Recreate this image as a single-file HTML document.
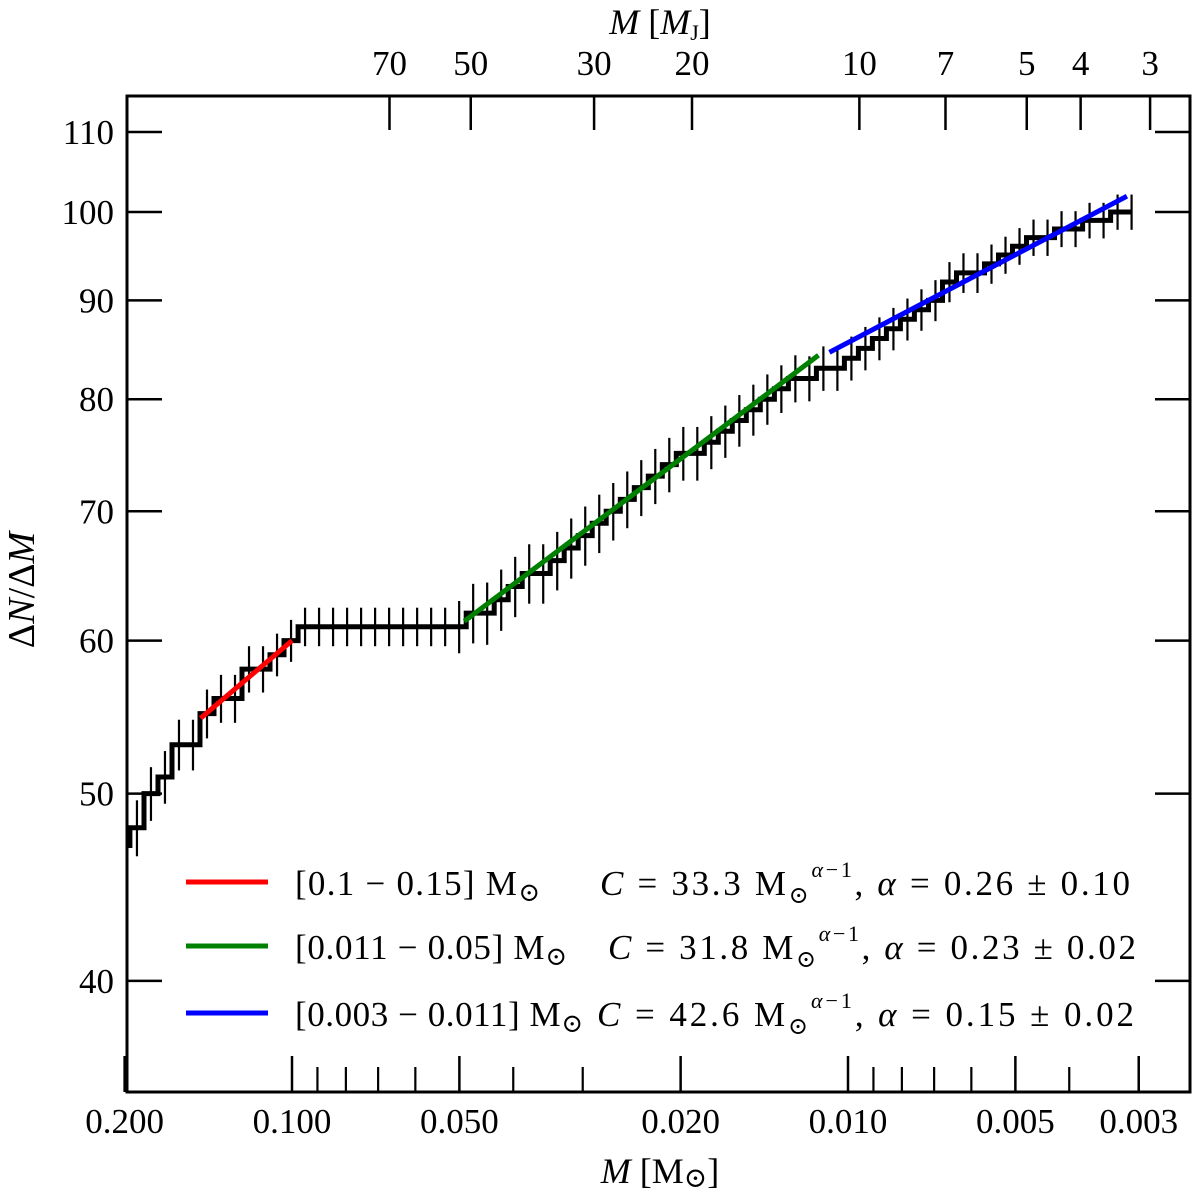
<!DOCTYPE html>
<html><head><meta charset="utf-8"><style>
html,body{margin:0;padding:0;background:#fff;}
svg{display:block;font-family:"Liberation Serif","DejaVu Serif",serif;}
</style></head><body>
<svg id="chart" width="1200" height="1198" viewBox="0 0 1200 1198" xmlns="http://www.w3.org/2000/svg">
<g id="marks"></g>
<g id="axes"></g>
<g id="legend">
  <line x1="186" y1="882" x2="268" y2="882" stroke="#ff0000" stroke-width="5"/>
  <line x1="186" y1="946" x2="268" y2="946" stroke="#008000" stroke-width="5"/>
  <line x1="186" y1="1013" x2="268" y2="1013" stroke="#0000ff" stroke-width="5"/>
  <g font-size="35" fill="#000">
    <text x="295" y="895" textLength="245" lengthAdjust="spacing">[0.1 − 0.15] M<tspan font-size="26" dy="6">⊙</tspan></text>
    <text x="600" y="895" textLength="530" lengthAdjust="spacing"><tspan font-style="italic">C</tspan> = 33.3 M<tspan font-size="24" dy="8">⊙</tspan><tspan font-size="22" font-style="italic" dy="-26">α</tspan><tspan font-size="22">−1</tspan><tspan dy="18">, </tspan><tspan font-style="italic">α</tspan> = 0.26 ± 0.10</text>
    <text x="295" y="959" textLength="272" lengthAdjust="spacing">[0.011 − 0.05] M<tspan font-size="26" dy="6">⊙</tspan></text>
    <text x="608" y="959" textLength="528" lengthAdjust="spacing"><tspan font-style="italic">C</tspan> = 31.8 M<tspan font-size="24" dy="8">⊙</tspan><tspan font-size="22" font-style="italic" dy="-26">α</tspan><tspan font-size="22">−1</tspan><tspan dy="18">, </tspan><tspan font-style="italic">α</tspan> = 0.23 ± 0.02</text>
    <text x="295" y="1026" textLength="288" lengthAdjust="spacing">[0.003 − 0.011] M<tspan font-size="26" dy="6">⊙</tspan></text>
    <text x="597" y="1026" textLength="537" lengthAdjust="spacing"><tspan font-style="italic">C</tspan> = 42.6 M<tspan font-size="24" dy="8">⊙</tspan><tspan font-size="22" font-style="italic" dy="-26">α</tspan><tspan font-size="22">−1</tspan><tspan dy="18">, </tspan><tspan font-style="italic">α</tspan> = 0.15 ± 0.02</text>
  </g>
</g>
<text x="660" y="1183" font-size="36" text-anchor="middle"><tspan font-style="italic">M</tspan> [M<tspan font-size="28" dy="4">⊙</tspan><tspan dy="-4">]</tspan></text>
<text x="660" y="34" font-size="36" text-anchor="middle"><tspan font-style="italic">M</tspan> [<tspan font-style="italic">M</tspan><tspan font-size="22" dy="6">J</tspan><tspan dy="-6">]</tspan></text>
<text x="0" y="0" font-size="38" text-anchor="middle" transform="translate(34,590) rotate(-90)">Δ<tspan font-style="italic">N</tspan>/Δ<tspan font-style="italic">M</tspan></text>
</svg>
<script>
// ---- data ----
const binStartMass = 0.2014;   // first bin centre (clipped at left edge)
const binEndMass = 0.00309;    // last bin centre
const counts = [47,48,50,51,53,53,55,56,56,58,58,59,60,
  61,61,61,61,61,61,61,61,61,61,61,
  61,62,62,63,64,65,65,66,67,68,69,70,71,72,73,74,75,75,76,77,78,79,80,81,82,
  82,83,83,84,85,86,87,88,89,90,92,93,93,94,95,96,97,97,98,98,99,99,100,100];
const errors = [1.6,1.6,1.6,1.6,1.6,1.6,1.6,1.6,1.6,1.6,1.6,1.5,1.5,
  1.4,1.4,1.4,1.4,1.4,1.4,1.4,1.4,1.4,1.4,1.4,
  1.9,2.2,2.3,2.3,2.3,2.3,2.3,2.3,2.4,2.4,2.4,2.4,2.4,2.4,2.4,2.4,2.4,2.4,2.4,2.4,2.4,2.4,2.4,2.3,2.3,
  2.2,2.2,2.2,2.2,2.2,2.2,2.2,2.2,2.2,2.2,2.2,2.2,2.2,2.2,2.1,2.1,2.1,2.1,2.1,2.1,2.1,2.1,2.1,2.1];
const fitMassStart = [0.146, 0.049, 0.0108];
const fitMassEnd = [0.100, 0.0113, 0.00315];
const fitValueStart = [54.7, 61.4, 84.6];
const fitValueEnd = [60.0, 84.3, 101.9];
const fitColors = ['#ff0000','#008000','#0000ff'];
const fitNames = ['fit-line-red','fit-line-green','fit-line-blue'];
const xMajorTicks = [0.2,0.1,0.05,0.02,0.01,0.005,0.003];
const xMajorLabels = ['0.200','0.100','0.050','0.020','0.010','0.005','0.003'];
const xMinorTicks = [0.09,0.08,0.07,0.06,0.04,0.03,0.009,0.008,0.007,0.006,0.004];
const yTicks = [110,100,90,80,70,60,50,40];
const yTickLabels = ['110','100','90','80','70','60','50','40'];
const topTicksMJ = [70,50,30,20,10,7,5,4,3];
const MJ_IN_MSUN = 0.000954;

// ---- axes ----
const L=127,R=1190,T=96,B=1092;
const PX_PER_DEC_X=556, X_REF=292, M_REF=0.1;
const PX_PER_DEC_Y=1932, Y_REF=212, V_REF=100;
function xs(m){return X_REF + PX_PER_DEC_X*Math.log10(M_REF/m);}
function ys(v){return Y_REF + PX_PER_DEC_Y*Math.log10(V_REF/v);}
const NS='http://www.w3.org/2000/svg';
function mk(tag,attrs,parent){const e=document.createElementNS(NS,tag);for(const k in attrs)e.setAttribute(k,attrs[k]);parent.appendChild(e);return e;}

const marks=document.getElementById('marks');
const axes=document.getElementById('axes');
const defs=mk('defs',{},marks);
const cp=mk('clipPath',{id:'clip'},defs);
mk('rect',{x:L,y:T,width:R-L,height:B-T},cp);
const g=mk('g',{'clip-path':'url(#clip)'},marks);

const n=counts.length;
const masses=[];
for(let i=0;i<n;i++){masses.push(binStartMass*Math.pow(binEndMass/binStartMass,i/(n-1)));}

for(let i=0;i<n;i++){
  const x=xs(masses[i]);
  const e=mk('line',{x1:x,x2:x,y1:ys(counts[i]+errors[i]),y2:ys(counts[i]-errors[i]),stroke:'#000','stroke-width':2.2},g);
  
  
}
let d='';
for(let i=0;i<n;i++){
  const x=xs(masses[i]);
  const xl=i===0?x-7:(x+xs(masses[i-1]))/2;
  const xr=i===n-1?x:(x+xs(masses[i+1]))/2;
  const y=ys(counts[i]);
  d+=(i===0?'M':'L')+xl.toFixed(1)+','+y.toFixed(1)+'L'+xr.toFixed(1)+','+y.toFixed(1);
}
const step=mk('path',{d:d,fill:'none',stroke:'#000','stroke-width':5,'stroke-linejoin':'miter'},g);


for(let k=0;k<fitColors.length;k++){
  const l=mk('line',{x1:xs(fitMassStart[k]),y1:ys(fitValueStart[k]),x2:xs(fitMassEnd[k]),y2:ys(fitValueEnd[k]),stroke:fitColors[k],'stroke-width':5},g);
  
  
}

const fr=mk('rect',{x:L,y:T,width:R-L,height:B-T,fill:'none',stroke:'#000','stroke-width':3},axes);


for(let i=0;i<xMajorTicks.length;i++){
  const x=xs(xMajorTicks[i]);
  const t=mk('line',{x1:x,x2:x,y1:B,y2:B-36,stroke:'#000','stroke-width':2.5},axes);
  
  
  const tx=mk('text',{x:x,y:1133,'font-size':35,'text-anchor':'middle'},axes);
  tx.textContent=xMajorLabels[i];
  
  
}
for(const m of xMinorTicks){
  const x=xs(m);
  const t=mk('line',{x1:x,x2:x,y1:B,y2:B-25,stroke:'#000','stroke-width':2.2},axes);
  
  
}
for(const mj of topTicksMJ){
  const x=xs(mj*MJ_IN_MSUN);
  const t=mk('line',{x1:x,x2:x,y1:T,y2:T+34,stroke:'#000','stroke-width':2.5},axes);
  
  
  const tx=mk('text',{x:x,y:75,'font-size':35,'text-anchor':'middle'},axes);
  tx.textContent=String(mj);
  
  
}
for(let i=0;i<yTicks.length;i++){
  const y=ys(yTicks[i]);
  const t=mk('line',{x1:L,x2:L+35,y1:y,y2:y,stroke:'#000','stroke-width':2.5},axes);
  
  
  const t2=mk('line',{x1:R,x2:R-35,y1:y,y2:y,stroke:'#000','stroke-width':2.5},axes);
  
  
  const tx=mk('text',{x:114,y:y+12,'font-size':35,'text-anchor':'end'},axes);
  tx.textContent=yTickLabels[i];
  
  
}
</script>
</body></html>
